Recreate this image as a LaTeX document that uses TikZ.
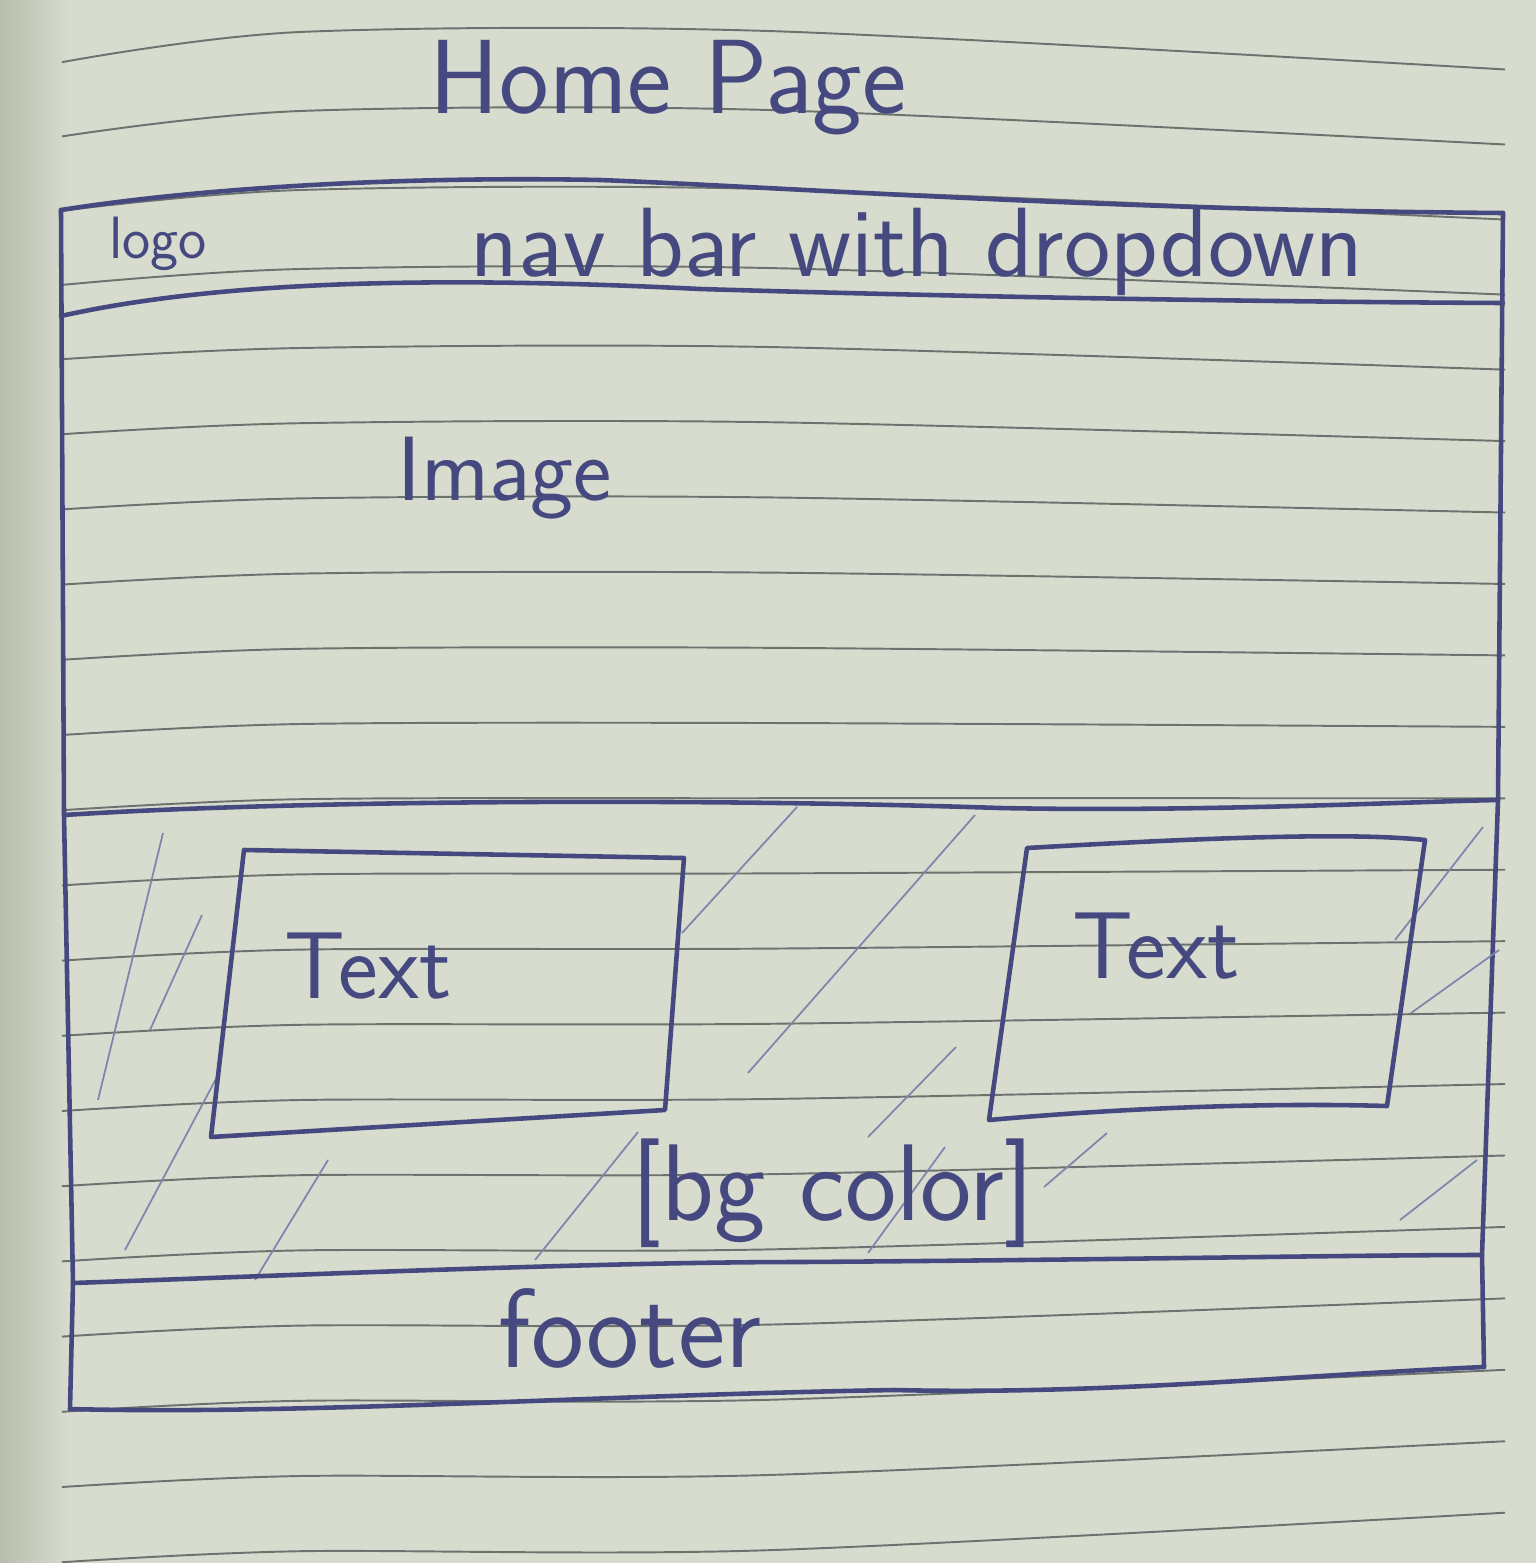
\documentclass[tikz,border=0pt]{standalone}
\definecolor{paper}{RGB}{215,220,207}
\definecolor{papershade}{RGB}{182,190,172}
\definecolor{inkblue}{RGB}{70,73,128}
\definecolor{ruleline}{RGB}{108,114,110}
\definecolor{hatchline}{RGB}{126,134,172}
\begin{document}
\begin{tikzpicture}[x=0.01cm,y=-0.01cm,
  ink/.style={draw=inkblue,line width=1.3pt,line join=round,line cap=round},
  rule/.style={draw=ruleline,line width=0.55pt},
  hatch/.style={draw=hatchline,line width=0.5pt},
  hand/.style={text=inkblue,inner sep=0pt,font=\sffamily},
]
% notebook paper, with a shadow along the bound edge
\fill[paper] (0,0) rectangle (1536,1563);
\shade[left color=papershade,right color=paper] (0,0) rectangle (70,1563);
\useasboundingbox (0,0) rectangle (1536,1563);

% ruled lines (slightly fanned and curved, as on a photographed page)
\foreach \k in {0,...,20}{
  \pgfmathsetmacro{\m}{ifthenelse(\k<4,31+79*\k,347+75.2*(\k-4))}
  \pgfmathsetmacro{\ya}{\m+12+0.06*max(0,350-\m)}
  \pgfmathsetmacro{\yb}{\m+1}
  \pgfmathsetmacro{\yc}{\m+40-0.05*\m}
  \draw[rule] plot[smooth] coordinates {(62,\ya) (300,\yb) (768,\m) (1505,\yc)};
}

% title
\node[hand,font=\sffamily\fontsize{30}{36}\selectfont] (title) at (668,88) {Home Page};

% outer frame corners
\coordinate (tl) at (61,210);
\coordinate (tr) at (1503,213);
\coordinate (br) at (1484,1367);
\coordinate (bl) at (70,1409);

% nav bar
\draw[ink] (tl) .. controls (200,188) and (400,176) .. (600,180)
  .. controls (800,188) and (1100,210) .. (tr);
\draw[ink] (61,316) .. controls (200,285) and (400,274) .. (700,289)
  .. controls (1000,298) and (1300,302) .. (1503,303);
\node[hand,font=\sffamily\fontsize{17}{20}\selectfont] (logo) at (158,244) {logo};
\node[hand,font=\sffamily\fontsize{28}{33}\selectfont] (nav) at (917,252) {nav bar with dropdown};

% image area
\draw[ink] (64,815) .. controls (300,800) and (700,798) .. (1000,808)
  .. controls (1200,812) and (1400,802) .. (1498,800);
\node[hand,font=\sffamily\fontsize{26}{31}\selectfont] (image) at (505,478) {Image};

% frame sides
\draw[ink] (tl) -- (64,815) -- (73,1283) -- (bl);
\draw[ink] (tr) -- (1498,800) -- (1482,1255) -- (br);

% background hatching of the content band
\foreach \a/\b/\c/\d in {
  98/1100/163/833, 150/1030/202/915, 125/1250/217/1077,
  255/1280/328/1160, 535/1260/638/1132,
  682/933/797/807, 748/1073/975/815, 868/1137/956/1047,
  868/1253/945/1147, 1044/1187/1107/1133,
  1395/940/1483/827, 1411/1013/1499/950, 1400/1220/1477/1160}
  \draw[hatch] (\a,\b) -- (\c,\d);

% text boxes
\draw[ink] (244,850) -- (684,858) -- (665,1110) -- (211,1137) -- cycle;
\draw[ink] (1027,848) .. controls (1200,838) and (1350,832) .. (1425,840)
  -- (1387,1106) .. controls (1250,1102) and (1100,1110) .. (989,1120) -- cycle;
\node[hand,font=\sffamily\fontsize{27}{32}\selectfont] (textA) at (368,966) {Text};
\node[hand,font=\sffamily\fontsize{27}{32}\selectfont] (textB) at (1156,946) {Text};
\node[hand,font=\sffamily\fontsize{31}{36}\selectfont] (bgcolor) at (833,1193) {[bg color]};

% footer
\draw[ink] (73,1283) .. controls (300,1275) and (600,1262) .. (800,1262)
  .. controls (1100,1260) and (1350,1255) .. (1482,1255);
\draw[ink] (bl) .. controls (300,1415) and (600,1395) .. (894,1390)
  .. controls (1100,1395) and (1300,1375) .. (br);
\node[hand,font=\sffamily\fontsize{32}{37}\selectfont] (footer) at (630,1328) {footer};
\end{tikzpicture}
\end{document}
